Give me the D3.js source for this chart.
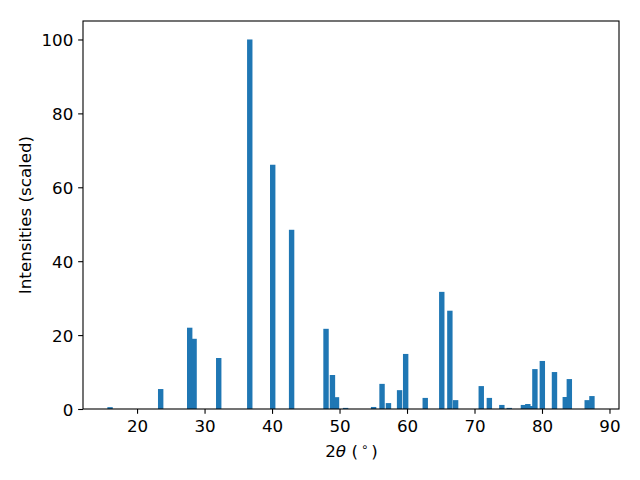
<!DOCTYPE html>
<html>
<head>
<meta charset="utf-8">
<script src="https://cdn.jsdelivr.net/npm/d3@7"></script>
<style>
  html, body { margin: 0; padding: 0; background: #fff; }
  svg { display: block; }
  text { font-family: "DejaVu Sans", sans-serif; fill: #000; }
</style>
</head>
<body>
<svg id="chart" width="640" height="480"></svg>
<script>
// Peak positions (2θ, degrees)
const angles = [16.0, 23.5, 27.8, 28.45, 32.1, 36.7, 40.1, 42.9, 48.0, 48.95, 49.55, 50.9,
  55.05, 56.3, 57.25, 58.9, 59.8, 62.7, 65.15, 66.35, 67.2, 71.0, 72.2, 74.05, 75.15,
  77.25, 77.9, 78.3, 78.95, 80.05, 81.85, 83.45, 84.05, 86.7, 87.4];
// Scaled intensities
const intensities = [0.5, 5.4, 22.0, 19.0, 13.8, 100, 66.1, 48.5, 21.7, 9.2, 3.2, 0.3,
  0.55, 6.8, 1.6, 5.1, 14.9, 3.0, 31.7, 26.6, 2.4, 6.2, 3.0, 1.1, 0.3,
  1.1, 1.35, 0.8, 10.8, 13.0, 10.0, 3.25, 8.1, 2.4, 3.5];
const xTicks = [20, 30, 40, 50, 60, 70, 80, 90];
const yTicks = [0, 20, 40, 60, 80, 100];
const barWidth = 0.8;

(function () {
const svg = d3.select("#chart");
const mLeft = 83, mRight = 619, mTop = 21, mBottom = 409;

const xmin = d3.min(angles) - barWidth / 2, xmax = d3.max(angles) + barWidth / 2;
const pad = (xmax - xmin) * 0.05;
const x = d3.scaleLinear().domain([xmin - pad, xmax + pad]).range([mLeft, mRight]);
const ymax = d3.max(intensities) * 1.05;
const y = d3.scaleLinear().domain([0, ymax]).range([mBottom, mTop]);

const data = angles.map((a, i) => ({a, v: intensities[i]}));

svg.append("g").selectAll("rect").data(data).enter().append("rect")
  .attr("x", d => x(d.a - barWidth / 2))
  .attr("width", d => x(d.a + barWidth / 2) - x(d.a - barWidth / 2))
  .attr("y", d => y(d.v))
  .attr("height", d => y(0) - y(d.v))
  .attr("fill", "#1f77b4");

const fs = 16.7;
const tickLen = 4.86;

const xAxis = svg.append("g").attr("transform", `translate(0,${mBottom})`)
  .call(d3.axisBottom(x).tickValues(xTicks).tickSize(tickLen).tickPadding(6.3).tickFormat(d3.format("d")));
const yAxis = svg.append("g").attr("transform", `translate(${mLeft},0)`)
  .call(d3.axisLeft(y).tickValues(yTicks).tickSize(tickLen).tickPadding(4.86).tickFormat(d3.format("d")));
[xAxis, yAxis].forEach(g => {
  g.select(".domain").remove();
  g.selectAll("line").attr("stroke", "#000").attr("stroke-width", 1.1);
  g.selectAll("text").attr("font-size", fs).attr("font-family", "DejaVu Sans").attr("fill", "#000");
});
yAxis.selectAll("text").attr("dy", "0.38em");

// frame
svg.append("rect").attr("x", mLeft).attr("y", mTop)
  .attr("width", mRight - mLeft).attr("height", mBottom - mTop)
  .attr("fill", "none").attr("stroke", "#000").attr("stroke-width", 1.1);

// y label
svg.append("text")
  .attr("transform", `translate(31,${(mTop + mBottom) / 2}) rotate(-90)`)
  .attr("text-anchor", "middle").attr("font-size", fs)
  .text("Intensities (scaled)");

// x label: 2θ (°)
const xl = svg.append("text")
  .attr("x", 351.5).attr("y", 457)
  .attr("text-anchor", "middle").attr("font-size", fs);
xl.append("tspan").text("2");
xl.append("tspan").attr("font-style", "italic").text("θ");
xl.append("tspan").text(" (");
xl.append("tspan").attr("font-size", fs * 0.7).attr("dx", 3).attr("dy", -6).text("∘");
xl.append("tspan").attr("dx", 3).attr("dy", 6).text(")");
})();
</script>
</body>
</html>
